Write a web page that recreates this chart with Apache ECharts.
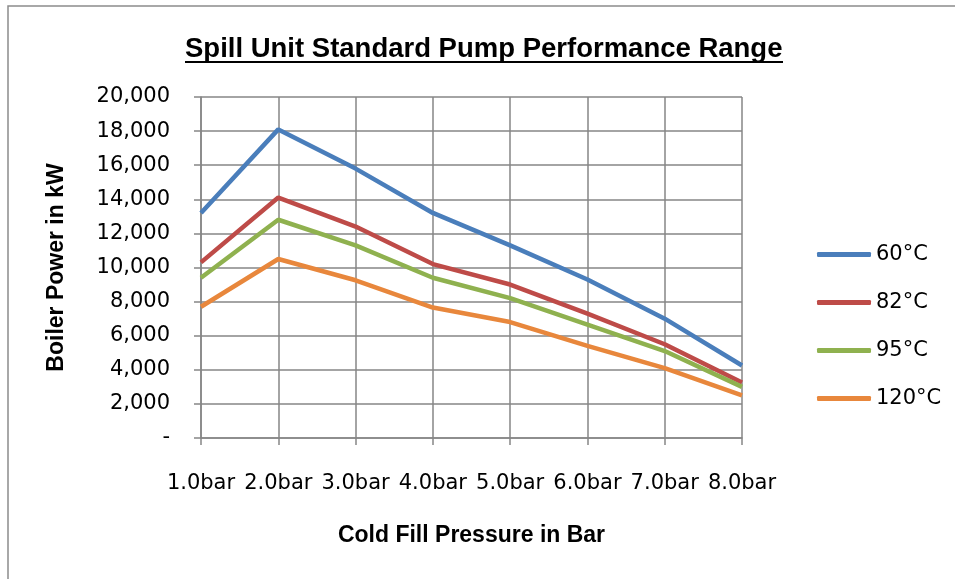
<!DOCTYPE html>
<html>
<head>
<meta charset="utf-8">
<script src="https://cdn.jsdelivr.net/npm/echarts@6/dist/echarts.min.js"></script>
<style>
  html, body { margin: 0; padding: 0; background: #ffffff; }
  #main { width: 955px; height: 579px; }
</style>
</head>
<body>
<div id="main"></div>
<script>
// pressures along the x axis
const pressures = ['1.0bar', '2.0bar', '3.0bar', '4.0bar', '5.0bar', '6.0bar', '7.0bar', '8.0bar'];

// boiler power (kW) per flow temperature
const temp60 = [13200, 18100, 15800, 13200, 11300, 9300, 7000, 4250];
const temp82 = [10300, 14100, 12400, 10200, 9000, 7300, 5500, 3250];
const temp95 = [9400, 12800, 11300, 9400, 8200, 6650, 5100, 3000];
const temp120 = [7700, 10500, 9250, 7650, 6800, 5400, 4100, 2500];

const seriesNames = ['60°C', '82°C', '95°C', '120°C'];
const colors = ['#4a7ebb', '#be4b48', '#8fb14f', '#e8873c'];

const tickFont = "'DejaVu Sans', sans-serif";
const boldFont = "'Liberation Sans', Arial, sans-serif";

let myChart = echarts.init(document.getElementById('main'));

function mkLine(name, data, idx) {
  return {
    name: name,
    type: 'line',
    data: data,
    symbol: 'none',
    lineStyle: { width: 4.5, color: colors[idx] },
    itemStyle: { color: colors[idx] }
  };
}

let option = {
  animation: false,
  backgroundColor: '#ffffff',
  title: {
    text: 'Spill Unit Standard Pump Performance Range',
    left: 180,
    top: 30,
    textStyle: { fontFamily: boldFont, fontSize: 27.5, fontWeight: 'bold', color: '#000' }
  },
  graphic: [
    {
      type: 'rect',
      shape: { x: 8, y: 6, width: 960, height: 600 },
      style: { fill: 'none', stroke: '#8c8c8c', lineWidth: 1.5 },
      silent: true
    },
    {
      type: 'line',
      shape: { x1: 185, y1: 62, x2: 783, y2: 62 },
      style: { stroke: '#000', lineWidth: 2 },
      silent: true
    }
  ],
  legend: {
    orient: 'vertical',
    left: 817,
    top: 244,
    padding: 0,
    itemWidth: 54,
    itemHeight: 5,
    itemGap: 27,
    icon: 'roundRect',
    data: seriesNames,
    textStyle: { fontFamily: tickFont, fontSize: 21, color: '#000' }
  },
  grid: {
    left: 201,
    right: 213,
    top: 97,
    bottom: 141,
    containLabel: false
  },
  xAxis: {
    type: 'category',
    data: pressures,
    boundaryGap: false,
    name: 'Cold Fill Pressure in Bar',
    nameLocation: 'middle',
    nameGap: 86,
    nameTextStyle: { fontFamily: boldFont, fontSize: 23, fontWeight: 'bold', color: '#000' },
    axisLine: { lineStyle: { color: '#868686', width: 1.5 } },
    axisTick: { show: true, length: 7, lineStyle: { color: '#868686', width: 1.5 } },
    axisLabel: { interval: 0, margin: 35, fontFamily: tickFont, fontSize: 21, color: '#000' },
    splitLine: { show: true, lineStyle: { color: '#868686', width: 1.5 } }
  },
  yAxis: {
    type: 'value',
    min: 0,
    max: 20000,
    interval: 2000,
    name: 'Boiler Power in kW',
    nameLocation: 'middle',
    nameGap: 133,
    nameTextStyle: { fontFamily: boldFont, fontSize: 23, fontWeight: 'bold', color: '#000' },
    axisLine: { show: true, lineStyle: { color: '#868686', width: 1.5 } },
    axisTick: { show: true, inside: false, length: 7, lineStyle: { color: '#868686', width: 1.5 } },
    axisLabel: {
      fontFamily: tickFont,
      fontSize: 21,
      color: '#000',
      margin: 31,
      formatter: function (v) {
        if (v === 0) {
          return '-';
        }
        return v.toLocaleString('en-US');
      }
    },
    splitLine: { show: true, lineStyle: { color: '#868686', width: 1.5 } }
  },
  series: [
    mkLine(seriesNames[0], temp60, 0),
    mkLine(seriesNames[1], temp82, 1),
    mkLine(seriesNames[2], temp95, 2),
    mkLine(seriesNames[3], temp120, 3)
  ]
};
myChart.setOption(option);
</script>
</body>
</html>
